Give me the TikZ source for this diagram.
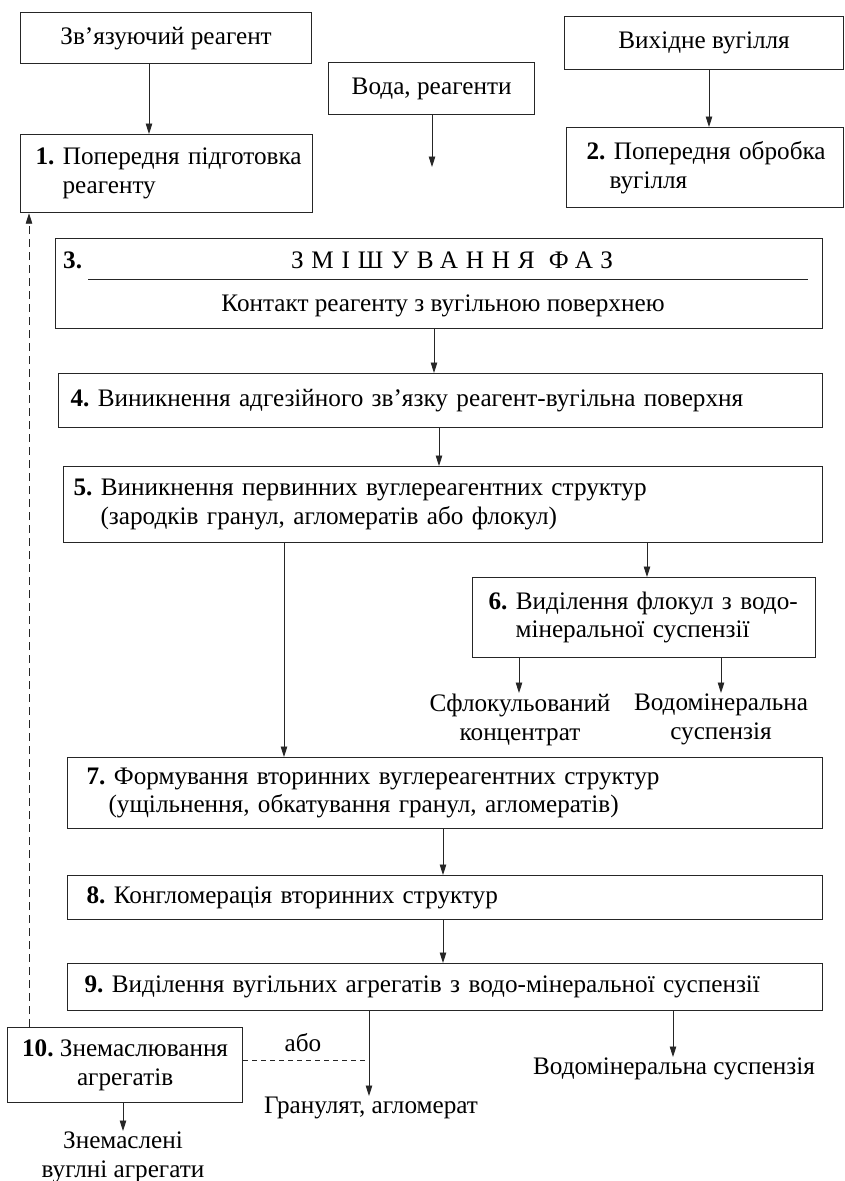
\documentclass[tikz,border=0pt]{standalone}
\usepackage{fontspec}
\setmainfont{Liberation Serif}
\usetikzlibrary{arrows.meta}
\newcommand\myfs{\fontsize{25.2}{28.5}\selectfont\frenchspacing}
\begin{document}
\begin{tikzpicture}[x=1pt,y=-1pt,
  every node/.style={font=\myfs, text=black},
  box/.style={draw=black!85, line width=1.2pt, anchor=north west, inner ysep=0pt},
  lbox/.style={box, align=left},
  cbox/.style={box, align=center},
  lbl/.style={align=center, inner sep=1pt},
  arr/.style={draw=black!85, line width=0.9pt, -{Triangle[length=10.5pt,width=6.5pt]}},
  dsh/.style={draw=black!85, line width=0.9pt, dash pattern=on 8pt off 5pt}]
\useasboundingbox (0,0) rectangle (845,1181);

% top boxes
\node[cbox, minimum width=291pt, minimum height=51pt] (r0) at (20,12) {Зв’язуючий реагент};
\node[cbox, minimum width=206pt, minimum height=52pt] (w) at (328,62) {Вода, реагенти};
\node[cbox, minimum width=279pt, minimum height=53pt] (c0) at (564,16) {Вихідне вугілля};

\node[lbox, inner xsep=15pt, text width=262pt, minimum height=78pt] (b1) at (20,134)
  {\mbox{\textbf{1.} Попередня підготовка}\\\hspace*{27pt}\mbox{реагенту}};
\node[lbox, inner xsep=20pt, text width=237pt, minimum height=80pt] (b2) at (566,127)
  {\mbox{\textbf{2.} Попередня обробка}\\\hspace*{23pt}\mbox{вугілля}};

% box 3
\node[box, minimum width=767pt, minimum height=90pt] (b3) at (55,238) {};
\node[anchor=base west, inner sep=0pt] (n3) at (63,268) {\textbf{3.}};
\node[anchor=base] (t3) at (452,268) {\addfontfeature{LetterSpace=31}ЗМІШУВАННЯ ФАЗ};
\draw[line width=0.9pt, black!85] (88,279) -- (808,279);
\node[anchor=base] (s3) at (443,311) {Контакт реагенту з вугільною поверхнею};

\node[lbox, inner xsep=12pt, text width=740pt, minimum height=54pt] (b4) at (58,373)
  {\mbox{\textbf{4.} Виникнення адгезійного зв’язку реагент-вугільна поверхня}};
\node[lbox, inner xsep=10pt, text width=739pt, minimum height=76pt] (b5) at (63,466)
  {\mbox{\textbf{5.} Виникнення первинних вуглереагентних структур}\\\hspace*{27pt}\mbox{(зародків гранул, агломератів або флокул)}};
\node[lbox, inner xsep=16pt, text width=311pt, minimum height=80pt] (b6) at (472,577)
  {\mbox{\textbf{6.} Виділення флокул з водо-}\\\hspace*{27pt}\mbox{мінеральної суспензії}};
\node[lbox, inner xsep=19pt, text width=717pt, minimum height=71pt] (b7) at (67,757)
  {\mbox{\textbf{7.} Формування вторинних вуглереагентних структур}\\\hspace*{22pt}\mbox{(ущільнення, обкатування гранул, агломератів)}};
\node[lbox, inner xsep=19pt, text width=717pt, minimum height=44pt] (b8) at (67,875)
  {\mbox{\textbf{8.} Конгломерація вторинних структур}};
\node[lbox, inner xsep=17pt, text width=721pt, minimum height=47pt] (b9) at (67,963)
  {\mbox{\textbf{9.} Виділення вугільних агрегатів з водо-мінеральної суспензії}};
\node[cbox, minimum width=235pt, minimum height=75pt] (b10) at (7,1027)
  {\textbf{10.} Знемаслювання\\агрегатів};

% free labels
\node[lbl, anchor=north] (fc) at (520,693) {Сфлокульований\\концентрат};
\node[lbl, anchor=north] (vs1) at (721,693) {Водомінеральна\\суспензія};
\node[lbl, anchor=north] (vs2) at (674,1057) {Водомінеральна суспензія};
\node[lbl, anchor=north] (gr) at (371,1096) {Гранулят, агломерат};
\node[lbl, anchor=north] (zn) at (123,1131) {Знемаслені\\вуглні агрегати};
\node[lbl] (abo) at (303,1043) {або};

% x positions of connectors
\coordinate (xA) at (149,0);
\coordinate (xW) at (432,0);
\coordinate (wEnd) at (432,167);
\coordinate (xC) at (709,0);
\coordinate (x34) at (434,0);
\coordinate (x45) at (439,0);
\coordinate (x57) at (284,0);
\coordinate (x56) at (647,0);
\coordinate (x6a) at (519,0);
\coordinate (x6b) at (721,0);
\coordinate (x78) at (443,0);
\coordinate (x9a) at (369,0);
\coordinate (x9b) at (673,0);
\coordinate (x10) at (123,0);
\coordinate (xD) at (29,0);
\coordinate (oJoin) at (369,1060);

\draw[arr] (r0.south -| xA) -- (b1.north -| xA);
\draw[arr] (w.south -| xW) -- (wEnd);
\draw[arr] (c0.south -| xC) -- (b2.north -| xC);
\draw[arr] (b3.south -| x34) -- (b4.north -| x34);
\draw[arr] (b4.south -| x45) -- (b5.north -| x45);
\draw[arr] (b5.south -| x57) -- (b7.north -| x57);
\draw[arr] (b5.south -| x56) -- (b6.north -| x56);
\draw[arr] (b6.south -| x6a) -- (fc.north -| x6a);
\draw[arr] (b6.south -| x6b) -- (vs1.north -| x6b);
\draw[arr] (b7.south -| x78) -- (b8.north -| x78);
\draw[arr] (b8.south -| x78) -- (b9.north -| x78);
\draw[arr] (b9.south -| x9a) -- (gr.north -| x9a);
\draw[arr] (b9.south -| x9b) -- (vs2.north -| x9b);
\draw[arr] (b10.south -| x10) -- (zn.north -| x10);
\draw[dsh, -{Triangle[length=10.5pt,width=6.5pt]}] (b10.north -| xD) -- (b1.south -| xD);
\draw[draw=black!85, line width=0.9pt, dash pattern=on 5pt off 4pt] (b10.east |- oJoin) -- (oJoin);
\end{tikzpicture}
\end{document}
